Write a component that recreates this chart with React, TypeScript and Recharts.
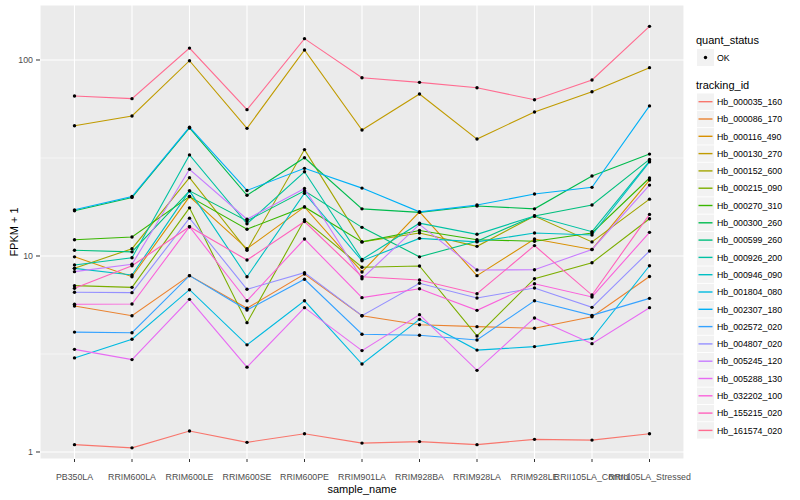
import React from 'react'
import {
  LineChart, Line, XAxis, YAxis, CartesianGrid, Label,
} from 'recharts'

document.body.style.margin = '0'

const samples = [
  'PB350LA', 'RRIM600LA', 'RRIM600LE', 'RRIM600SE', 'RRIM600PE', 'RRIM901LA',
  'RRIM928BA', 'RRIM928LA', 'RRIM928LE', 'RRII105LA_Control', 'RRII105LA_Stressed',
]
const sampleIdx = [0, 1, 2, 3, 4, 5, 6, 7, 8, 9, 10]

// FPKM + 1 per sample
const hb000035_160 = [1.09, 1.05, 1.28, 1.12, 1.24, 1.11, 1.13, 1.09, 1.16, 1.15, 1.24]
const hb000086_170 = [5.56, 4.96, 7.94, 5.41, 8.09, 4.96, 4.46, 4.36, 4.28, 4.9, 7.86]
const hb000116_490 = [9.9, 7.84, 20.1, 10.9, 17.8, 8.29, 16.8, 7.94, 12.2, 10.8, 24.4]
const hb000130_270 = [46.2, 51.8, 99.2, 44.8, 112.5, 43.9, 67.1, 39.5, 54.3, 68.9, 91.4]
const hb000152_600 = [8.65, 10.9, 25.1, 10.7, 34.9, 11.8, 13.1, 11.2, 16.0, 11.8, 19.5]
const hb000215_090 = [7.06, 6.92, 17.6, 4.57, 15.3, 8.76, 8.89, 3.91, 7.66, 9.24, 15.5]
const hb000270_310 = [12.1, 12.5, 20.1, 13.7, 17.8, 11.8, 13.5, 12.1, 11.9, 13.1, 25.0]
const hb000300_260 = [17.0, 19.9, 45.0, 20.4, 31.7, 17.4, 16.7, 18.0, 17.4, 25.6, 33.1]
const hb000599_260 = [10.7, 10.5, 21.5, 15.1, 21.5, 14.0, 9.9, 11.9, 16.0, 18.2, 31.1]
const hb000926_200 = [9.0, 9.8, 32.8, 14.6, 26.9, 9.6, 14.7, 12.9, 16.0, 13.3, 30.5]
const hb000946_090 = [8.65, 8.0, 21.5, 7.84, 20.9, 9.46, 12.3, 11.8, 13.1, 12.8, 30.2]
const hb001804_080 = [3.02, 3.76, 6.73, 3.52, 5.91, 2.81, 4.75, 3.31, 3.45, 3.79, 8.92]
const hb002307_180 = [17.2, 20.1, 45.4, 21.6, 28.0, 22.2, 16.8, 18.2, 20.7, 22.4, 58.3]
const hb002572_020 = [4.09, 4.06, 7.94, 5.3, 7.61, 3.99, 3.94, 3.73, 5.91, 4.98, 6.08]
const hb004807_020 = [6.53, 6.5, 15.6, 6.76, 8.22, 4.96, 7.26, 6.11, 6.87, 5.47, 10.6]
const hb005245_120 = [8.32, 9.07, 27.7, 15.4, 22.1, 7.66, 14.5, 8.48, 8.51, 10.8, 23.0]
const hb005288_130 = [3.34, 2.96, 6.01, 2.71, 5.45, 3.29, 5.02, 2.61, 4.83, 3.57, 5.45]
const hb032202_100 = [5.67, 5.69, 14.1, 5.91, 12.2, 6.13, 6.81, 5.28, 7.22, 6.18, 13.2]
const hb155215_020 = [6.84, 8.92, 14.1, 9.54, 15.0, 7.84, 7.54, 6.42, 11.3, 6.32, 16.3]
const hb161574_020 = [65.5, 63.5, 115, 55.8, 128.5, 81.2, 76.9, 72.2, 62.7, 79.1, 148.5]

const trackingIds = [
  'Hb_000035_160', 'Hb_000086_170', 'Hb_000116_490', 'Hb_000130_270', 'Hb_000152_600',
  'Hb_000215_090', 'Hb_000270_310', 'Hb_000300_260', 'Hb_000599_260', 'Hb_000926_200',
  'Hb_000946_090', 'Hb_001804_080', 'Hb_002307_180', 'Hb_002572_020', 'Hb_004807_020',
  'Hb_005245_120', 'Hb_005288_130', 'Hb_032202_100', 'Hb_155215_020', 'Hb_161574_020',
]
const seriesValues = [
  hb000035_160, hb000086_170, hb000116_490, hb000130_270, hb000152_600,
  hb000215_090, hb000270_310, hb000300_260, hb000599_260, hb000926_200,
  hb000946_090, hb001804_080, hb002307_180, hb002572_020, hb004807_020,
  hb005245_120, hb005288_130, hb032202_100, hb155215_020, hb161574_020,
]
// ggplot hue palette, 20 levels
const seriesColors = [
  '#F8766D', '#EA8331', '#D89000', '#C09B00', '#A3A500', '#7CAE00', '#39B600', '#00BB4E',
  '#00BF7D', '#00C1A3', '#00BFC4', '#00BAE0', '#00B0F6', '#35A2FF', '#9590FF', '#C77CFF',
  '#E76BF3', '#FA62DB', '#FF62BC', '#FF6C91',
]
const yTicks = [1, 10, 100]
const yMinorTicks = [3.162, 31.62]

const data = sampleIdx.map((i) => {
  const row: Record<string, number | string> = { idx: i, sample: samples[i] }
  trackingIds.forEach((id, k) => { row[id] = seriesValues[k][i] })
  return row
})

const FONT = '"Liberation Sans", Arial, Helvetica, sans-serif'
const tickStyle = { fill: '#4D4D4D', fontSize: 8.8, fontFamily: FONT }

function LegendPanel() {
  const x0 = 697
  const keyTop = 101.7
  const step = 17.3
  return (
    <svg width={800} height={500} style={{ position: 'absolute', left: 0, top: 0, pointerEvents: 'none' }}>
      <g fontFamily={FONT}>
        <text x={696} y={44} fontSize={11} fill="#000">quant_status</text>
        <rect x={x0} y={49} width={17} height={17} fill="#F2F2F2" />
        <circle cx={x0 + 8.5} cy={57.5} r={1.7} fill="#000" />
        <text x={717} y={60.7} fontSize={8.8} fill="#000">OK</text>
        <text x={696} y={89} fontSize={11} fill="#000">tracking_id</text>
        {trackingIds.map((id, k) => {
          const cy = keyTop + k * step
          return (
            <g key={id}>
              <rect x={x0} y={cy - 8.2} width={17} height={16.4} fill="#F2F2F2" />
              <line x1={x0 + 1.5} x2={x0 + 15.5} y1={cy} y2={cy} stroke={seriesColors[k]} strokeWidth={1.4} />
              <text x={717} y={cy + 3.2} fontSize={8.8} fill="#000">{id}</text>
            </g>
          )
        })}
      </g>
    </svg>
  )
}

export default function App() {
  return (
    <div style={{ position: 'relative', width: 800, height: 500, background: '#fff', fontFamily: FONT }}>
      <LineChart width={800} height={500} data={data} margin={{ top: 5, right: 116, bottom: 0, left: 0 }}>
        <CartesianGrid fill="#EBEBEB" stroke="#FFFFFF" strokeWidth={1.1} />
        <CartesianGrid fill="none" stroke="#FFFFFF" strokeWidth={0.55} vertical={false} horizontalValues={yMinorTicks} />
        <XAxis
          dataKey="idx"
          type="number"
          domain={[-0.6, 10.6]}
          ticks={sampleIdx}
          interval={0}
          tickFormatter={(i: number) => samples[i]}
          tick={tickStyle}
          tickSize={3}
          tickMargin={12}
          tickLine={{ stroke: '#333333' }}
          axisLine={false}
          height={41}
        >
          <Label value="sample_name" position="insideBottom" offset={7} style={{ fontSize: 11, fill: '#000', fontFamily: FONT }} />
        </XAxis>
        <YAxis
          scale="log"
          domain={[0.921, 190.8]}
          allowDataOverflow
          ticks={yTicks}
          tick={tickStyle}
          tickSize={4}
          tickMargin={3}
          tickLine={{ stroke: '#333333' }}
          axisLine={false}
          width={40}
        >
          <Label value="FPKM + 1" angle={-90} position="insideLeft" offset={14} style={{ fontSize: 11, fill: '#000', fontFamily: FONT, textAnchor: 'middle' }} />
        </YAxis>
        {trackingIds.map((id, k) => (
          <Line
            key={id}
            dataKey={id}
            type="linear"
            stroke={seriesColors[k]}
            strokeWidth={1.1}
            dot={false}
            activeDot={false}
            isAnimationActive={false}
          />
        ))}
        {trackingIds.map((id) => (
          <Line
            key={`${id}-pt`}
            dataKey={id}
            type="linear"
            stroke="none"
            dot={{ r: 1.7, fill: '#000', stroke: 'none' }}
            activeDot={false}
            isAnimationActive={false}
            legendType="none"
          />
        ))}
      </LineChart>
      <LegendPanel />
    </div>
  )
}
